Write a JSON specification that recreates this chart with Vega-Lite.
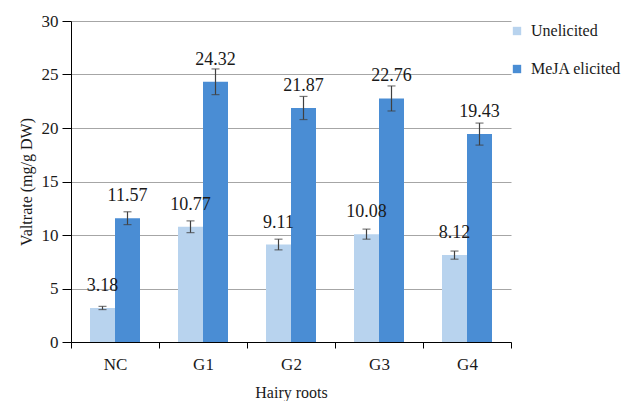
{
  "$schema": "https://vega.github.io/schema/vega-lite/v6.json",
  "autosize": "none",
  "width": 440,
  "height": 321,
  "padding": {"left": 71, "top": 21, "right": 123, "bottom": 59},
  "background": "white",
  "config": {
    "font": "Liberation Serif",
    "view": {"stroke": null},
    "axis": {"labelFont": "Liberation Serif", "titleFont": "Liberation Serif", "labelColor": "#1a1a1a", "titleColor": "#1a1a1a"},
    "legend": {"labelFont": "Liberation Serif"},
    "text": {"font": "Liberation Serif"}
  },
  "data": {
    "values": [
      {"group": "NC", "type": "Unelicited", "value": 3.18, "lo": 3.03, "hi": 3.33},
      {"group": "NC", "type": "MeJA elicited", "value": 11.57, "lo": 10.97, "hi": 12.17},
      {"group": "G1", "type": "Unelicited", "value": 10.77, "lo": 10.22, "hi": 11.32},
      {"group": "G1", "type": "MeJA elicited", "value": 24.32, "lo": 23.12, "hi": 25.52},
      {"group": "G2", "type": "Unelicited", "value": 9.11, "lo": 8.61, "hi": 9.61},
      {"group": "G2", "type": "MeJA elicited", "value": 21.87, "lo": 20.79, "hi": 22.95},
      {"group": "G3", "type": "Unelicited", "value": 10.08, "lo": 9.61, "hi": 10.55},
      {"group": "G3", "type": "MeJA elicited", "value": 22.76, "lo": 21.59, "hi": 23.93},
      {"group": "G4", "type": "Unelicited", "value": 8.12, "lo": 7.74, "hi": 8.5},
      {"group": "G4", "type": "MeJA elicited", "value": 19.43, "lo": 18.4, "hi": 20.46}
    ]
  },
  "encoding": {
    "x": {
      "field": "group", "type": "nominal", "sort": ["NC", "G1", "G2", "G3", "G4"],
      "scale": {"paddingInner": 0, "paddingOuter": 0},
      "axis": {
        "title": "Hairy roots", "titleFontSize": 16, "titleFontWeight": "normal", "titlePadding": 12,
        "labelFontSize": 17, "labelAngle": 0, "labelPadding": 8,
        "domainColor": "#000000", "tickColor": "#000000", "tickSize": 6, "tickBand": "extent", "grid": false
      }
    },
    "xOffset": {
      "field": "type", "type": "nominal", "sort": ["Unelicited", "MeJA elicited"],
      "scale": {"paddingInner": 0, "paddingOuter": 0.76}
    }
  },
  "layer": [
    {
      "mark": {"type": "bar"},
      "encoding": {
        "y": {
          "field": "value", "type": "quantitative",
          "scale": {"domain": [0, 30], "nice": false},
          "axis": {
            "title": "Valtrate (mg/g DW)", "titleFontSize": 16, "titleFontWeight": "normal", "titlePadding": 7,
            "values": [0, 5, 10, 15, 20, 25, 30], "labelFontSize": 17, "labelPadding": 4,
            "domainColor": "#000000", "tickColor": "#000000", "tickSize": 9,
            "grid": true, "gridColor": "#a6a6a6", "gridWidth": 1.2
          }
        },
        "color": {
          "field": "type", "type": "nominal",
          "scale": {"domain": ["Unelicited", "MeJA elicited"], "range": ["#b8d3ee", "#4a8dd4"]},
          "legend": {
            "title": null, "orient": "none", "legendX": 438, "legendY": 2,
            "symbolType": "square", "symbolSize": 70, "symbolStrokeWidth": 0,
            "labelFontSize": 16, "labelColor": "#1a1a1a",
            "rowPadding": 22, "labelOffset": 6
          }
        }
      }
    },
    {
      "mark": {"type": "rule", "color": "#404040", "strokeWidth": 1.2},
      "encoding": {"y": {"field": "lo", "type": "quantitative"}, "y2": {"field": "hi"}}
    },
    {
      "mark": {"type": "tick", "color": "#404040", "thickness": 1.2, "size": 8, "orient": "horizontal"},
      "encoding": {"y": {"field": "lo", "type": "quantitative"}}
    },
    {
      "mark": {"type": "tick", "color": "#404040", "thickness": 1.2, "size": 8, "orient": "horizontal"},
      "encoding": {"y": {"field": "hi", "type": "quantitative"}}
    },
    {
      "mark": {"type": "text", "fontSize": 18, "dy": -17, "baseline": "alphabetic", "color": "#1a1a1a"},
      "encoding": {
        "y": {"field": "value", "type": "quantitative"},
        "text": {"field": "value", "type": "quantitative", "format": ".2f"}
      }
    }
  ]
}
